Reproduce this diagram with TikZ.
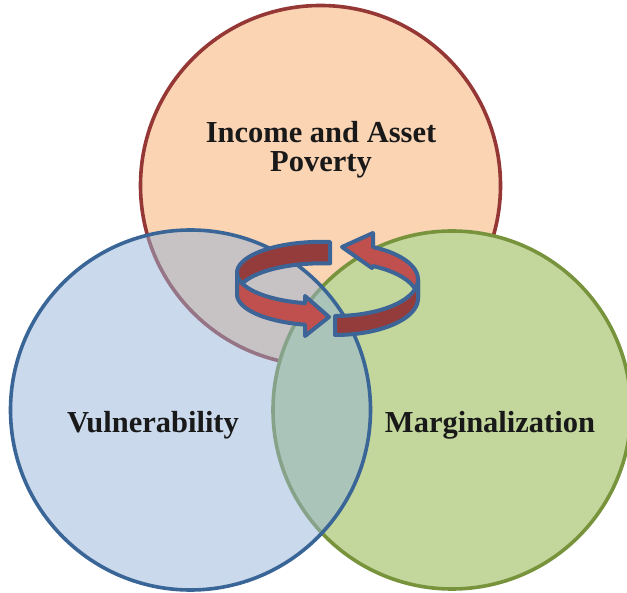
\documentclass[tikz,border=0pt]{standalone}
\usepackage{fontspec}
\setmainfont{Liberation Serif}
\usepackage{xcolor}
\usepackage{tikz}

\definecolor{povfill}{HTML}{FBD4B4}
\definecolor{povline}{HTML}{953735}
\definecolor{vulfill}{HTML}{95B3D7}
\definecolor{vulline}{HTML}{3A6597}
\definecolor{marfill}{HTML}{C3D69B}
\definecolor{marline}{HTML}{77933C}
\definecolor{arrlight}{HTML}{C0504D}
\definecolor{arrdark}{HTML}{943C3B}
\definecolor{arrline}{HTML}{3C6496}

\begin{document}
\begin{tikzpicture}[x=1pt,y=-1pt,
  ring/.style={line width=3.6pt},
  band/.style={draw=arrline,line width=4pt,line join=round},
  circtext/.style={font=\fontsize{30.5}{30.5}\selectfont\bfseries,text=black!90}]
\tikzstyle{every node}+=[inner sep=0pt]
\useasboundingbox (0,0) rectangle (627,593);
% the three circles
\draw [ring,draw=povline,fill=povfill] (320.5,185.5) circle (180pt);
\draw [ring,draw=marline,fill=marfill] (452,410) circle (179pt);
\draw [ring,draw=vulline,fill=vulfill,fill opacity=0.5] (190.5,410) circle (180pt);
% left arrow, back then front
\draw [band,fill=arrdark] plot[domain=84.6:180,samples=30,variable=\t] ({322+85*cos(\t)},{272.8-31*sin(\t)})
  -- plot[domain=180:84.6,samples=30,variable=\t] ({322+85*cos(\t)},{294.3-31*sin(\t)}) -- cycle;
\draw [band,fill=arrlight] plot[domain=180:258.5,samples=30,variable=\t] ({322+85*cos(\t)},{272.8-31*sin(\t)})
  -- (305,296) -- (329,317) -- (305,336)
  -- plot[domain=258.5:180,samples=30,variable=\t] ({322+85*cos(\t)},{294.3-31*sin(\t)}) -- cycle;
% right arrow, back then front
\draw [band,fill=arrlight] plot[domain=0:62.7,samples=30,variable=\t] ({335+83*cos(\t)},{279.5-36.5*sin(\t)})
  -- (373,233) -- (342,247) -- (372,268)
  -- plot[domain=62.7:0,samples=30,variable=\t] ({335+83*cos(\t)},{298.5-36.5*sin(\t)}) -- cycle;
\draw [band,fill=arrdark] plot[domain=270:360,samples=30,variable=\t] ({335+83*cos(\t)},{279.5-36.5*sin(\t)})
  -- plot[domain=360:270,samples=30,variable=\t] ({335+83*cos(\t)},{298.5-36.5*sin(\t)}) -- cycle;
% labels
\node [circtext,anchor=base] (income) at (321,143) {Income and Asset};
\node [circtext,anchor=base] (poverty) at (321,172) {Poverty};
\node [circtext,anchor=base] (vul) at (153,433) {Vulnerability};
\node [circtext,anchor=base] (mar) at (490,433) {Marginalization};
\end{tikzpicture}
\end{document}
